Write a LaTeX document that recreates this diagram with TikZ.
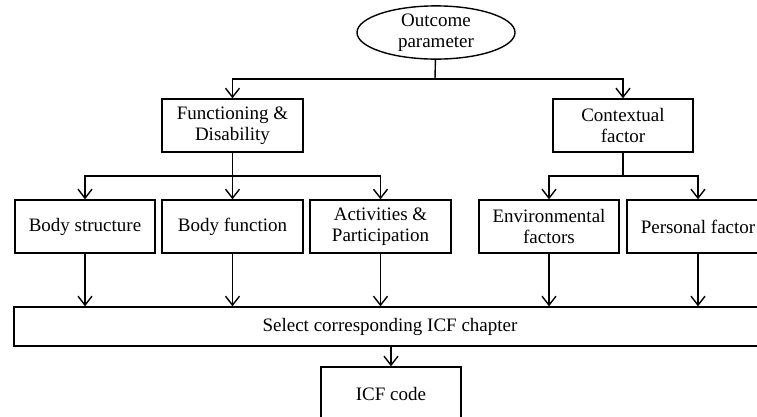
\documentclass[tikz,border=0pt]{standalone}
\usepackage{fontspec}
\setmainfont{Liberation Serif}
\usetikzlibrary{shapes.geometric,arrows.meta}

\tikzset{
    box/.style={draw,rectangle,inner sep=0pt,minimum height=53pt,align=center},
    arr/.style={-{Straight Barb[length=9pt,width=14pt,line width=1.4pt]}}
}

\begin{document}
\begin{tikzpicture}[x=1pt,y=-1pt,line width=1.4pt,font=\fontsize{19}{21}\selectfont]
    \useasboundingbox (0,0) rectangle (757,416);
    \clip (0,0) rectangle (757,416);
    % top
    \node[draw,ellipse,inner sep=0pt,minimum width=158pt,minimum height=53pt,align=center] (outcome) at (436,32.5) {Outcome\\parameter};
    \node[box,minimum width=141pt] (func) at (232.5,125.5) {Functioning \&\\Disability};
    \node[box,minimum width=140pt] (context) at (623,125.5) {Contextual\\factor};
    % second row
    \node[box,minimum width=140pt] (bodys) at (85,226.5) {Body structure};
    \node[box,minimum width=141pt] (bodyf) at (232.5,226.5) {Body function};
    \node[box,minimum width=141pt] (act) at (380.5,226.5) {Activities \&\\Participation};
    \node[box,minimum width=140pt] (env) at (549,226.5) {Environmental\\factors};
    \node[box,minimum width=142pt] (pers) at (698,226.5) {Personal factor};
    % bottom
    \node[box,minimum width=752pt,minimum height=39pt] (select) at (390,326.5) {Select corresponding ICF chapter};
    \node[box,minimum width=140pt,minimum height=54pt] (icf) at (391,394) {ICF code};

    \coordinate (split) at (435,79);
    \coordinate (fsplit) at (232.5,176);
    \coordinate (csplit) at (623,176);
    \draw (outcome) -- (split);
    \draw[arr] (split) -| (func);
    \draw[arr] (split) -| (context);
    \draw (func) -- (fsplit);
    \draw (context) -- (csplit);
    \foreach \n in {bodys,bodyf,act}{
        \draw[arr] (fsplit) -| (\n);
    }
    \foreach \n in {env,pers}{
        \draw[arr] (csplit) -| (\n);
    }
    \foreach \n in {bodys,bodyf,act,env,pers}{
        \draw[arr] (\n) -- (\n |- select.north);
    }
    \draw[arr] (select.south -| icf) -- (icf);
\end{tikzpicture}
\end{document}
